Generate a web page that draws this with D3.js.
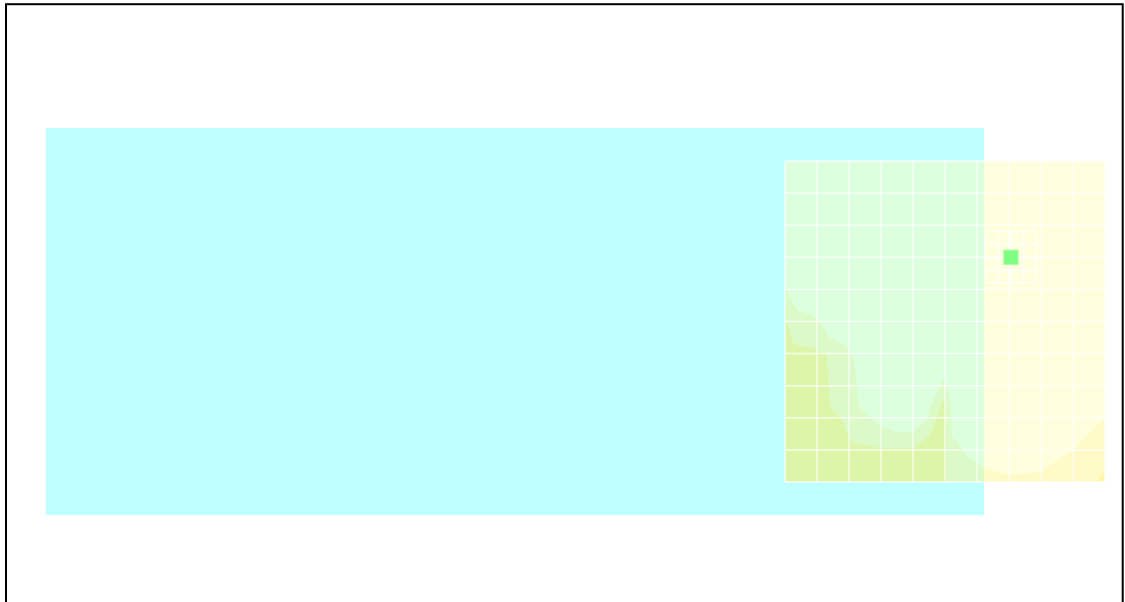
<!DOCTYPE html>
<html><head><meta charset="utf-8">
<script src="https://cdn.jsdelivr.net/npm/d3@7"></script>
<style>html,body{margin:0;padding:0;background:#fff;overflow:hidden}</style>
</head><body><svg id="c" width="1125" height="602"></svg>
<script>
// ---- data (grid units: the heat grid spans 0..10 in both directions) ----
const gridTicks = [0,1,2,3,4,5,6,7,8,9,10];
const coverX = [-23.1, 6.22];
const coverY = [-1.03, 11.03];
const bandNames = ["low","mid","high"];
const bandColors = ["#ffffb6","#fff685","#fee942"];
// upper edge of the "mid" band (x, y)
const midBoundary = [
  [0,3.95],[0.16,4.24],[0.375,4.64],[0.78,4.80],[1.0,4.89],[1.41,5.51],[1.72,5.67],
  [2.03,5.89],[2.19,6.42],[2.25,7.23],[2.34,7.66],[2.75,8.07],[3.06,8.29],[3.5,8.44],
  [4.0,8.44],[4.44,8.07],[4.53,7.66],[4.75,7.23],[5.0,6.73],[5.16,7.45],[5.22,8.60],
  [5.375,8.75],[5.69,9.22],[5.94,9.38],[6.25,9.56],[7.03,9.78],[7.97,9.69],[9.0,9.0],[10,7.98]
];
// upper edge of the "high" band (x, y)
const highBoundary = [
  [0,5.05],[0.06,5.05],[0.25,5.67],[0.47,5.76],[0.875,5.83],[1.31,6.04],[1.34,6.82],
  [1.41,7.66],[1.78,8.07],[2.09,8.79],[2.97,8.94],[4.0,8.94],[4.53,8.54],[4.94,7.45],
  [5.0,7.45],[5.03,7.76],[5.06,10],[9.75,10],[10,9.63]
];
const focusCenter = [7.06, 3.0];
const focusTicks = [-0.8,-0.4,0,0.4,0.8];
const markerSize = 0.45;

// ---- drawing ----
const svg = d3.select("#c");
const x = d3.scaleLinear().domain([0,10]).range([785,1105]);
const y = d3.scaleLinear().domain([0,10]).range([161,482]);

svg.append("rect").attr("x",6).attr("y",4.2).attr("width",1116.7).attr("height",700)
  .attr("fill","none").attr("stroke","#000").attr("stroke-width",2);

svg.append("rect")
  .attr("x", x(coverX[0])).attr("y", y(coverY[0]))
  .attr("width", x(coverX[1]) - x(coverX[0])).attr("height", y(coverY[1]) - y(coverY[0]))
  .attr("fill","#c0ffff");

const heat = svg.append("g").attr("opacity",0.45);
heat.append("rect").attr("x",x(0)).attr("y",y(0))
  .attr("width",x(10)-x(0)).attr("height",y(10)-y(0)).attr("fill",bandColors[0]);
const area = d3.area().x(d=>x(d[0])).y0(d=>y(d[1])).y1(y(10));
heat.append("path").datum(midBoundary).attr("d",area).attr("fill",bandColors[1]);
heat.append("path").datum(highBoundary).attr("d",area).attr("fill",bandColors[2]);

const lines = svg.append("g").attr("stroke","#fff").attr("stroke-opacity",0.75).attr("stroke-width",1.5);
gridTicks.forEach(t=>{
  lines.append("line").attr("x1",x(t)).attr("x2",x(t)).attr("y1",y(0)).attr("y2",y(10));
  lines.append("line").attr("y1",y(t)).attr("y2",y(t)).attr("x1",x(0)).attr("x2",x(10));
});

const focus = svg.append("g").attr("stroke","#fff").attr("stroke-opacity",0.85).attr("stroke-width",1.5);
const f0 = focusTicks[0], f1 = focusTicks[focusTicks.length-1];
focusTicks.forEach(t=>{
  focus.append("line").attr("x1",x(focusCenter[0]+t)).attr("x2",x(focusCenter[0]+t))
    .attr("y1",y(focusCenter[1]+f0)).attr("y2",y(focusCenter[1]+f1));
  focus.append("line").attr("y1",y(focusCenter[1]+t)).attr("y2",y(focusCenter[1]+t))
    .attr("x1",x(focusCenter[0]+f0)).attr("x2",x(focusCenter[0]+f1));
});

svg.append("rect")
  .attr("x", x(focusCenter[0]-markerSize/2)).attr("y", y(focusCenter[1]-markerSize/2))
  .attr("width", x(markerSize)-x(0)).attr("height", y(markerSize)-y(0))
  .attr("fill","#80ff80").attr("stroke","#a8ffa8").attr("stroke-width",1);
</script></body></html>
